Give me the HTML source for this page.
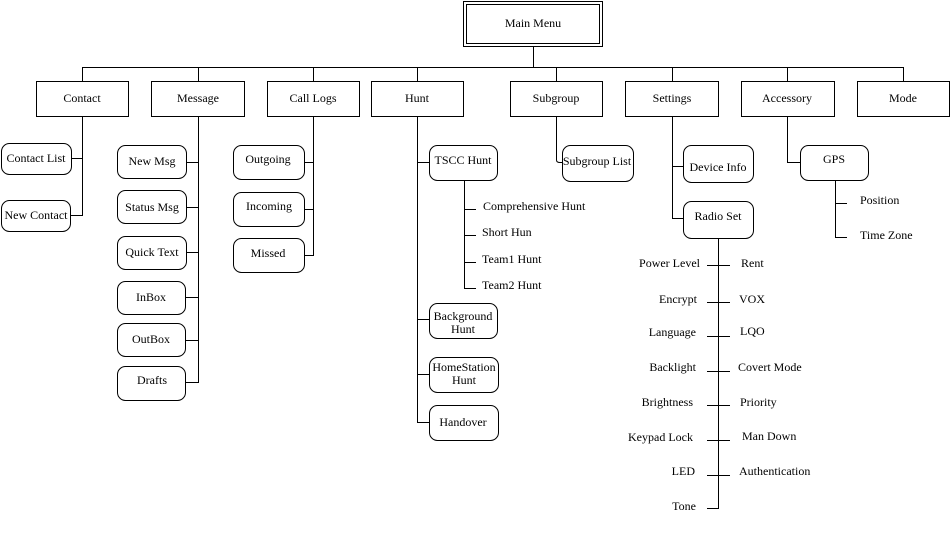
<!DOCTYPE html>
<html><head><meta charset="utf-8"><style>
html,body{margin:0;padding:0;background:#fff;}
svg text{font-family:"Liberation Serif",serif;font-size:12px;fill:#000;}
</style></head><body>
<svg width="950" height="552" viewBox="0 0 950 552" xmlns="http://www.w3.org/2000/svg">
<g fill="none" stroke="#000" stroke-width="1">
<rect x="463.5" y="1.5" width="139" height="45"/>
<rect x="466.5" y="4.5" width="133" height="39"/>
<path d="M533.5 46V67.5M82.5 67.5H903.5M82.5 67V81M198.5 67V81M313.5 67V81M417.5 67V81M556.5 67V81M672.5 67V81M787.5 67V81M903.5 67V81"/>
<rect x="36.5" y="81.5" width="92" height="35"/>
<rect x="151.5" y="81.5" width="93" height="35"/>
<rect x="267.5" y="81.5" width="92" height="35"/>
<rect x="371.5" y="81.5" width="92" height="35"/>
<rect x="510.5" y="81.5" width="92" height="35"/>
<rect x="625.5" y="81.5" width="93" height="35"/>
<rect x="741.5" y="81.5" width="93" height="35"/>
<rect x="857.5" y="81.5" width="92" height="35"/>
<!-- Contact -->
<path d="M82.5 116V215.5H70M72 158.5H82.5"/>
<rect x="1.5" y="143.5" width="70" height="31" rx="8"/>
<rect x="1.5" y="200.5" width="69" height="31" rx="8"/>
<!-- Message -->
<path d="M198.5 116V382.5H186M186 162.5H198.5M186 207.5H198.5M186 252.5H198.5M186 297.5H198.5M186 340.5H198.5"/>
<rect x="117.5" y="145.5" width="69" height="33" rx="8"/>
<rect x="117.5" y="190.5" width="69" height="33" rx="8"/>
<rect x="117.5" y="236.5" width="69" height="33" rx="8"/>
<rect x="117.5" y="281.5" width="68" height="33" rx="8"/>
<rect x="117.5" y="323.5" width="68" height="33" rx="8"/>
<rect x="117.5" y="366.5" width="68" height="34" rx="8"/>
<!-- Call logs -->
<path d="M313.5 116V255.5H304M304 162.5H313.5M304 209.5H313.5"/>
<rect x="233.5" y="145.5" width="71" height="34" rx="8"/>
<rect x="233.5" y="192.5" width="71" height="34" rx="8"/>
<rect x="233.5" y="238.5" width="71" height="34" rx="8"/>
<!-- Hunt -->
<path d="M417.5 116V422.5H429M417.5 162.5H429M417.5 319.5H429M417.5 374.5H429"/>
<rect x="429.5" y="145.5" width="68" height="35" rx="8"/>
<path d="M464.5 180V288.5H476M464.5 209.5H476M464.5 235.5H476M464.5 262.5H476"/>
<rect x="429.5" y="303.5" width="68" height="35" rx="8"/>
<rect x="429.5" y="357.5" width="69" height="35" rx="8"/>
<rect x="429.5" y="405.5" width="69" height="35" rx="8"/>
<!-- Subgroup -->
<path d="M556.5 116V160Q556.5 162.5 560 162.5H562"/>
<rect x="562.5" y="145.5" width="71" height="36" rx="8"/>
<!-- Settings -->
<path d="M672.5 116V218.5H683M672.5 166.5H683"/>
<rect x="683.5" y="145.5" width="70" height="37" rx="8"/>
<rect x="683.5" y="201.5" width="70" height="37" rx="8"/>
<path d="M718.5 238V508.5H707M707 265.5H730M707 302.5H730M707 336.5H730M707 371.5H730M707 405.5H730M707 440.5H730M707 475.5H730"/>
<!-- Accessory -->
<path d="M787.5 116V162.5H800"/>
<rect x="800.5" y="145.5" width="68" height="35" rx="8"/>
<path d="M835.5 180V237.5H847M835.5 203.5H847"/>
</g>
<g text-anchor="middle">
<text x="533" y="27">Main Menu</text>
<text x="82" y="102">Contact</text>
<text x="198" y="102">Message</text>
<text x="313" y="102">Call Logs</text>
<text x="417" y="102">Hunt</text>
<text x="556" y="102">Subgroup</text>
<text x="672" y="102">Settings</text>
<text x="787" y="102">Accessory</text>
<text x="903" y="102">Mode</text>
<text x="36" y="162">Contact List</text>
<text x="36" y="219">New Contact</text>
<text x="152" y="165">New Msg</text>
<text x="152" y="211">Status Msg</text>
<text x="152" y="256">Quick Text</text>
<text x="151" y="301">InBox</text>
<text x="151" y="343">OutBox</text>
<text x="152" y="384">Drafts</text>
<text x="268" y="163">Outgoing</text>
<text x="269" y="210">Incoming</text>
<text x="268" y="257">Missed</text>
<text x="463" y="164">TSCC Hunt</text>
<text x="463" y="320">Background</text>
<text x="463" y="333">Hunt</text>
<text x="464" y="371">HomeStation</text>
<text x="464" y="384">Hunt</text>
<text x="463" y="426">Handover</text>
<text x="597" y="165">Subgroup List</text>
<text x="718" y="171">Device Info</text>
<text x="718" y="220">Radio Set</text>
<text x="834" y="163">GPS</text>
</g>
<g>
<text x="483" y="210">Comprehensive Hunt</text>
<text x="482" y="236">Short Hun</text>
<text x="482" y="263">Team1 Hunt</text>
<text x="482" y="289">Team2 Hunt</text>
<text x="860" y="204">Position</text>
<text x="860" y="239">Time Zone</text>
<text x="741" y="267">Rent</text>
<text x="739" y="303">VOX</text>
<text x="740" y="335">LQO</text>
<text x="738" y="371">Covert Mode</text>
<text x="740" y="406">Priority</text>
<text x="742" y="440">Man Down</text>
<text x="739" y="475">Authentication</text>
</g>
<g text-anchor="end">
<text x="700" y="267">Power Level</text>
<text x="697" y="303">Encrypt</text>
<text x="696" y="336">Language</text>
<text x="696" y="371">Backlight</text>
<text x="693" y="406">Brightness</text>
<text x="693" y="441">Keypad Lock</text>
<text x="695" y="475">LED</text>
<text x="696" y="510">Tone</text>
</g>
</svg>
</body></html>
